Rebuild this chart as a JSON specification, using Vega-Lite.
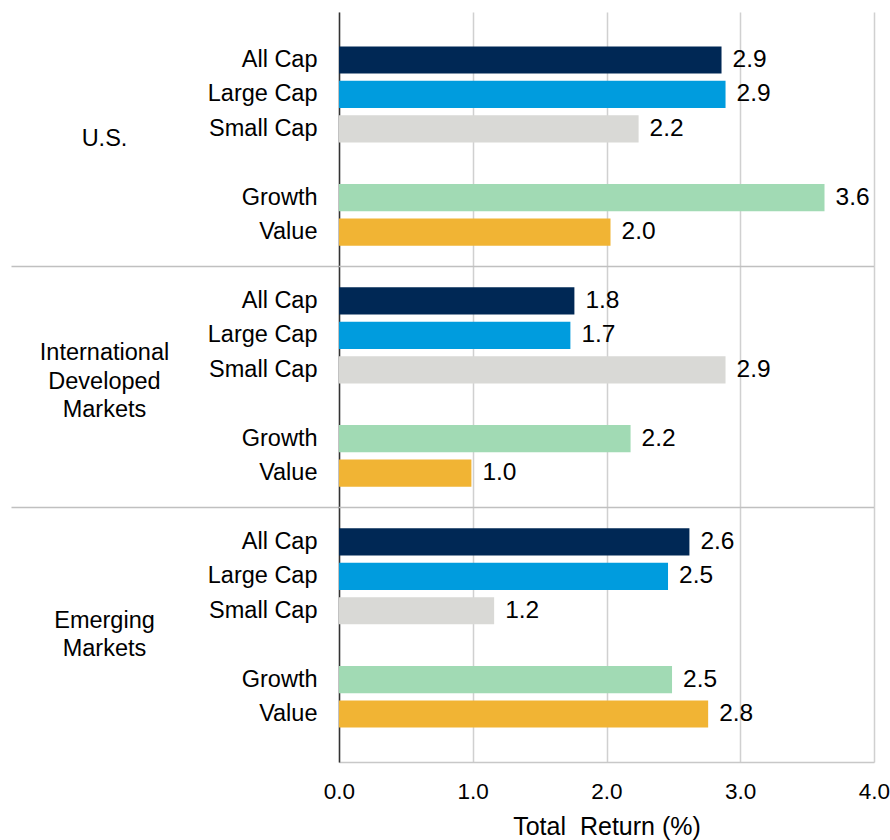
{
  "$schema": "https://vega.github.io/schema/vega-lite/v6.json",
  "width": 535,
  "height": 750,
  "padding": {"left": 10, "top": 12, "right": 5, "bottom": 5},
  "config": {
    "view": {"stroke": null},
    "font": "Liberation Sans",
    "axis": {"labelFont": "Liberation Sans", "titleFont": "Liberation Sans", "labelColor": "#000000", "titleColor": "#000000", "titleFontWeight": "normal"}
  },
  "datasets": {
    "returns": [
      {"category": "U.S.|All Cap", "segment": "All Cap", "value": 2.86},
      {"category": "U.S.|Large Cap", "segment": "Large Cap", "value": 2.89},
      {"category": "U.S.|Small Cap", "segment": "Small Cap", "value": 2.24},
      {"category": "U.S.|Growth", "segment": "Growth", "value": 3.63},
      {"category": "U.S.|Value", "segment": "Value", "value": 2.03},
      {"category": "Intl|All Cap", "segment": "All Cap", "value": 1.76},
      {"category": "Intl|Large Cap", "segment": "Large Cap", "value": 1.73},
      {"category": "Intl|Small Cap", "segment": "Small Cap", "value": 2.89},
      {"category": "Intl|Growth", "segment": "Growth", "value": 2.18},
      {"category": "Intl|Value", "segment": "Value", "value": 0.99},
      {"category": "EM|All Cap", "segment": "All Cap", "value": 2.62},
      {"category": "EM|Large Cap", "segment": "Large Cap", "value": 2.46},
      {"category": "EM|Small Cap", "segment": "Small Cap", "value": 1.16},
      {"category": "EM|Growth", "segment": "Growth", "value": 2.49},
      {"category": "EM|Value", "segment": "Value", "value": 2.76}
    ],
    "separators": [{"category": "sep1"}, {"category": "sep2"}],
    "regions": [
      {"region": "U.S."},
      {"region": "International Developed Markets"},
      {"region": "Emerging Markets"}
    ]
  },
  "resolve": {"scale": {"y": "independent"}, "axis": {"y": "independent"}},
  "layer": [
    {
      "data": {"name": "separators"},
      "mark": {"type": "rule", "color": "#c0c0c0", "strokeWidth": 1.5},
      "encoding": {
        "y": {
          "field": "category", "type": "nominal",
          "scale": {"type": "band", "domain": ["U.S.|All Cap", "U.S.|Large Cap", "U.S.|Small Cap", "U.S.|gap", "U.S.|Growth", "U.S.|Value", "sep1", "Intl|All Cap", "Intl|Large Cap", "Intl|Small Cap", "Intl|gap", "Intl|Growth", "Intl|Value", "sep2", "EM|All Cap", "EM|Large Cap", "EM|Small Cap", "EM|gap", "EM|Growth", "EM|Value"], "paddingInner": 0.21, "paddingOuter": 1.105},
          "axis": {"orient": "left", "values": ["sep1", "sep2"], "labels": false, "domain": false, "ticks": true, "tickSize": 328, "tickColor": "#c0c0c0", "tickWidth": 1.5, "grid": false, "title": null}
        }
      }
    },
    {
      "data": {"name": "regions"},
      "mark": {"type": "point", "opacity": 0},
      "encoding": {
        "y": {
          "field": "region", "type": "nominal",
          "scale": {"type": "band", "domain": ["U.S.", "International Developed Markets", "Emerging Markets"], "paddingInner": 0, "paddingOuter": 0.014},
          "axis": {
            "orient": "left", "labels": true, "domain": false, "ticks": false, "grid": false, "title": null,
            "labelAlign": "center", "labelBaseline": "middle", "labelPadding": 235, "labelFontSize": 23.5, "labelLineHeight": 28.5,
            "labelExpr": "split(datum.label, ' ')",
            "labelOffset": {"condition": [{"test": "datum.value === 'International Developed Markets'", "value": -34}, {"test": "datum.value === 'Emerging Markets'", "value": -14}], "value": 0}
          }
        }
      }
    },
    {
      "data": {"name": "returns"},
      "mark": {"type": "bar"},
      "encoding": {
        "y": {
          "field": "category", "type": "nominal",
          "scale": {"type": "band", "domain": ["U.S.|All Cap", "U.S.|Large Cap", "U.S.|Small Cap", "U.S.|gap", "U.S.|Growth", "U.S.|Value", "sep1", "Intl|All Cap", "Intl|Large Cap", "Intl|Small Cap", "Intl|gap", "Intl|Growth", "Intl|Value", "sep2", "EM|All Cap", "EM|Large Cap", "EM|Small Cap", "EM|gap", "EM|Growth", "EM|Value"], "paddingInner": 0.21, "paddingOuter": 1.105},
          "axis": {"orient": "left", "values": ["U.S.|All Cap", "U.S.|Large Cap", "U.S.|Small Cap", "U.S.|Growth", "U.S.|Value", "Intl|All Cap", "Intl|Large Cap", "Intl|Small Cap", "Intl|Growth", "Intl|Value", "EM|All Cap", "EM|Large Cap", "EM|Small Cap", "EM|Growth", "EM|Value"], "labelExpr": "split(datum.value, '|')[1]", "ticks": false, "domain": true, "domainColor": "#333333", "domainWidth": 1.5, "labelPadding": 22, "labelFontSize": 23.5, "labelAlign": "right", "labelBaseline": "middle", "grid": false, "title": null}
        },
        "x": {
          "field": "value", "type": "quantitative",
          "scale": {"domain": [0, 4], "nice": false},
          "axis": {"values": [0, 1, 2, 3, 4], "format": ".1f", "grid": true, "gridColor": "#d0d0d0", "gridWidth": 1.5, "ticks": false, "domain": true, "domainColor": "#c8c8c8", "domainWidth": 1.5, "labelFontSize": 22.5, "labelPadding": 18, "labelFlush": false, "title": "Total\u00a0 Return (%)", "titleFontSize": 25, "titlePadding": 12}
        },
        "color": {
          "field": "segment", "type": "nominal",
          "scale": {"domain": ["All Cap", "Large Cap", "Small Cap", "Growth", "Value"], "range": ["#002855", "#009cde", "#d9d9d6", "#a1dab4", "#f1b434"]},
          "legend": null
        }
      }
    },
    {
      "data": {"name": "returns"},
      "mark": {"type": "text", "align": "left", "baseline": "middle", "dx": 11, "fontSize": 24.5, "color": "#000000"},
      "encoding": {
        "y": {
          "field": "category", "type": "nominal",
          "scale": {"type": "band", "domain": ["U.S.|All Cap", "U.S.|Large Cap", "U.S.|Small Cap", "U.S.|gap", "U.S.|Growth", "U.S.|Value", "sep1", "Intl|All Cap", "Intl|Large Cap", "Intl|Small Cap", "Intl|gap", "Intl|Growth", "Intl|Value", "sep2", "EM|All Cap", "EM|Large Cap", "EM|Small Cap", "EM|gap", "EM|Growth", "EM|Value"], "paddingInner": 0.21, "paddingOuter": 1.105},
          "axis": null
        },
        "x": {"field": "value", "type": "quantitative", "title": "Total\u00a0 Return (%)"},
        "text": {"field": "value", "type": "quantitative", "format": ".1f"}
      }
    }
  ]
}
